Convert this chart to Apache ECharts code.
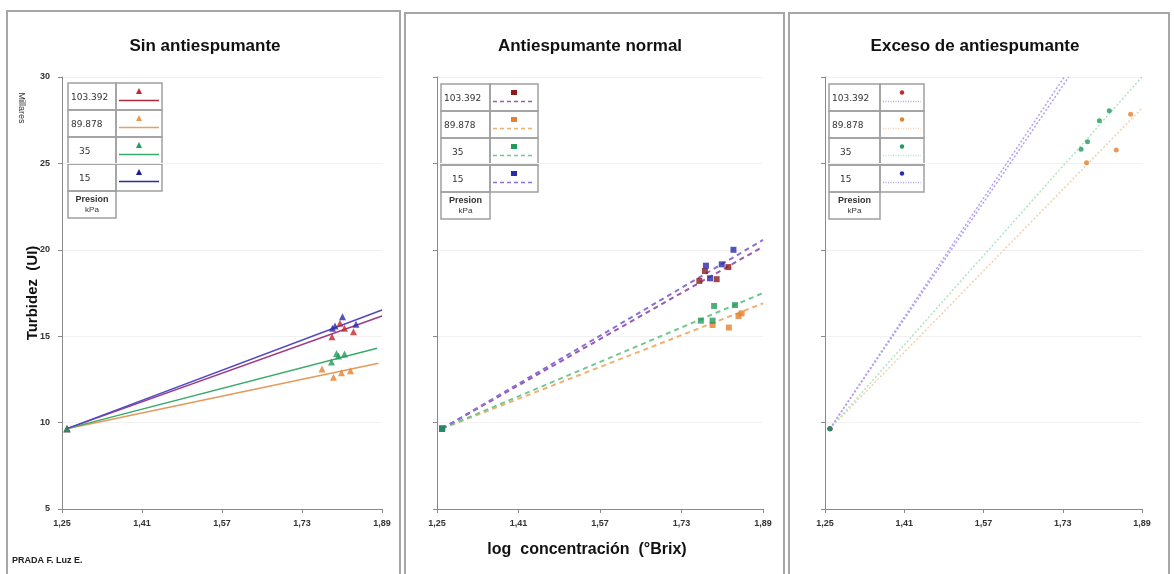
<!DOCTYPE html>
<html><head><meta charset="utf-8">
<script src="https://cdn.jsdelivr.net/npm/echarts@6/dist/echarts.min.js"></script>
<style>html,body{margin:0;padding:0;background:#fff}#c{width:1174px;height:574px}</style>
</head><body><div id="c"></div><script>
// ---------- DATA ----------
const xTickValues = [1.25, 1.41, 1.57, 1.73, 1.89];
const panelTitles = ['Sin antiespumante', 'Antiespumante normal', 'Exceso de antiespumante'];
const pressureLabels = ['103.392', '89.878', '35', '15'];
const origin = [1.26, 9.65];

// Panel 1: Sin antiespumante (triangles)
const sin_103 = [[1.790, 14.97], [1.806, 15.75], [1.815, 15.46], [1.833, 15.26]];
const sin_89  = [[1.770, 13.10], [1.793, 12.62], [1.809, 12.89], [1.827, 13.00]];
const sin_35  = [[1.789, 13.50], [1.799, 14.00], [1.803, 13.85], [1.815, 13.97]];
const sin_15  = [[1.791, 15.46], [1.796, 15.59], [1.811, 16.13], [1.838, 15.69]];
const sinTrendEnd = [[1.89, 16.17], [1.883, 13.43], [1.88, 14.30], [1.89, 16.52]];

// Panel 2: Antiespumante normal (squares)
const nor_103 = [[1.765, 18.20], [1.776, 18.77], [1.799, 18.30], [1.822, 19.00]];
const nor_89  = [[1.791, 15.65], [1.823, 15.50], [1.842, 16.17], [1.848, 16.32]];
const nor_35  = [[1.768, 15.90], [1.791, 15.90], [1.794, 16.75], [1.835, 16.80]];
const nor_15  = [[1.778, 19.08], [1.786, 18.35], [1.809, 19.16], [1.832, 20.00]];
const norTrendEnd = [[1.89, 20.18], [1.89, 16.90], [1.89, 17.50], [1.89, 20.57]];

// Panel 3: Exceso de antiespumante (circles)
const exc_103 = [];
const exc_89  = [[1.778, 25.04], [1.838, 25.78], [1.867, 27.84], [1.891, 28.63]];
const exc_35  = [[1.767, 25.82], [1.780, 26.26], [1.804, 27.47], [1.824, 28.05]];
const exc_15  = [];
const excTrendEnd = [[1.733, 30.0], [1.89, 28.20], [1.89, 30.0], [1.742, 30.0]];

// ---------- STYLE ----------
const markerColors = ['#c0282f', '#e6802e', '#239a5e', '#2a2aa8'];
const markerColors2 = ['#8b1a1a', '#e6802e', '#239a5e', '#2a2aa8'];
const lineColors1 = ['#9a3a8a', '#e39a5a', '#3aaa6a', '#5048c0'];
const lineColors2 = ['#9a5ab0', '#f0b070', '#70c890', '#8a70d0'];
const lineColors3 = ['#b8a0ec', '#f3d0b0', '#b0e4c4', '#b0a0ee'];

const grids = [
  {left: 62, top: 77, width: 320, height: 432},
  {left: 437, top: 77, width: 326, height: 432},
  {left: 825, top: 77, width: 317, height: 432}
];
const fontF = '"Liberation Sans", "DejaVu Sans", sans-serif';

const xAxes = grids.map((g, i) => ({
  gridIndex: i, type: 'value', min: 1.25, max: 1.89,
  axisLine: {lineStyle: {color: '#8a8a8a', width: 1}},
  axisTick: {show: true, customValues: xTickValues, length: 4, lineStyle: {color: '#8a8a8a'}},
  axisLabel: {customValues: xTickValues, color: '#333', fontSize: 9, fontWeight: 'bold', fontFamily: fontF, margin: 10,
    formatter: v => v.toFixed(2).replace('.', ',')},
  splitLine: {show: false}
}));
const yAxes = grids.map((g, i) => ({
  gridIndex: i, type: 'value', min: 5, max: 30, interval: 5,
  axisLine: {show: true, lineStyle: {color: '#8a8a8a', width: 1}},
  axisTick: {show: true, length: 4, lineStyle: {color: '#8a8a8a'}},
  axisLabel: {show: i === 0, color: '#333', fontSize: 9, fontWeight: 'bold', fontFamily: fontF, margin: 12},
  splitLine: {show: true, lineStyle: {color: '#f1f1f1', width: 1}}
}));

const series = [];
function addPanel(pi, sets, ends, symbol, mColors, lColors, lType, lWidth, symSize) {
  ends.forEach((e, k) => {
    series.push({type: 'line', xAxisIndex: pi, yAxisIndex: pi, data: [origin, e], symbol: 'none', clip: false,
      lineStyle: {color: lColors[k], width: lWidth, type: lType}, silent: true, z: 2});
  });
  [0, 1, 3, 2].forEach(k => {
    series.push({type: 'scatter', xAxisIndex: pi, yAxisIndex: pi, data: [origin].concat(sets[k]), symbol: symbol,
      symbolSize: symSize, itemStyle: {color: mColors[k]}, z: 3});
  });
}
addPanel(0, [sin_103, sin_89, sin_35, sin_15], sinTrendEnd, 'triangle', markerColors, lineColors1, 'solid', 1.5, 7);
addPanel(1, [nor_103, nor_89, nor_35, nor_15], norTrendEnd, 'rect', markerColors2, lineColors2, [5, 4], 2, 6);
addPanel(2, [exc_103, exc_89, exc_35, exc_15], excTrendEnd, 'circle', markerColors, lineColors3, [2, 2], 1.5, 5);

// ---------- GRAPHIC (frames, titles, legend tables) ----------
const graphic = [];
const frameStyle = {stroke: '#a6a6a6', fill: 'none', lineWidth: 2};
graphic.push({type: 'rect', shape: {x: 7, y: 11, width: 393, height: 600}, style: frameStyle, silent: true});
graphic.push({type: 'rect', shape: {x: 405, y: 13, width: 379, height: 600}, style: frameStyle, silent: true});
graphic.push({type: 'rect', shape: {x: 789, y: 13, width: 380, height: 600}, style: frameStyle, silent: true});

const titleX = [205, 590, 975];
panelTitles.forEach((t, i) => graphic.push({type: 'text', x: titleX[i], y: 46, silent: true,
  style: {text: t, fill: '#111', font: 'bold 17px ' + fontF, textAlign: 'center', textVerticalAlign: 'middle'}}));

graphic.push({type: 'text', x: 33, y: 293, rotation: Math.PI / 2, silent: true,
  style: {text: 'Turbidez  (UI)', fill: '#111', font: 'bold 15px ' + fontF, textAlign: 'center', textVerticalAlign: 'middle'}});
graphic.push({type: 'text', x: 21, y: 108, rotation: -Math.PI / 2, silent: true,
  style: {text: 'Millares', fill: '#333', font: '9px ' + fontF, textAlign: 'center', textVerticalAlign: 'middle'}});
graphic.push({type: 'text', x: 587, y: 550, silent: true,
  style: {text: 'log  concentración  (°Brix)', fill: '#111', font: 'bold 16px ' + fontF, textAlign: 'center', textVerticalAlign: 'middle'}});
graphic.push({type: 'text', x: 12, y: 561, silent: true,
  style: {text: 'PRADA F. Luz E.', fill: '#222', font: 'bold 9px ' + fontF, textAlign: 'left', textVerticalAlign: 'middle'}});

function legendTable(x0, y0, colW, swW, rowH, symbol, mColors, lColors, lDash) {
  const cell = {stroke: '#a0a0a0', fill: 'none', lineWidth: 1.5};
  for (let r = 0; r < 4; r++) {
    const y = y0 + r * rowH;
    graphic.push({type: 'rect', shape: {x: x0, y: y, width: colW, height: rowH}, style: cell, silent: true});
    graphic.push({type: 'rect', shape: {x: x0 + colW, y: y, width: swW, height: rowH}, style: cell, silent: true});
    const lx = r < 2 ? x0 + 3 : x0 + 11;
    graphic.push({type: 'text', x: lx, y: y + rowH / 2 + 1, silent: true,
      style: {text: pressureLabels[r], fill: '#333', font: '9px "DejaVu Sans", sans-serif', textAlign: 'left', textVerticalAlign: 'middle'}});
    const cx = x0 + colW + swW / 2;
    const my = y + rowH / 2 - 5;
    const ly = y + rowH / 2 + 4;
    graphic.push({type: 'line', shape: {x1: x0 + colW + 3, y1: ly, x2: x0 + colW + swW - 3, y2: ly}, silent: true,
      style: {stroke: lColors[r], lineWidth: 1.5, lineDash: lDash}});
    if (symbol === 'triangle') {
      graphic.push({type: 'polygon', shape: {points: [[cx, my - 3.5], [cx - 3, my + 2.5], [cx + 3, my + 2.5]]}, silent: true, style: {fill: mColors[r]}});
    } else if (symbol === 'rect') {
      graphic.push({type: 'rect', shape: {x: cx - 3, y: my - 2.5, width: 6, height: 5}, silent: true, style: {fill: mColors[r]}});
    } else {
      graphic.push({type: 'circle', shape: {cx: cx, cy: my, r: 2.2}, silent: true, style: {fill: mColors[r]}});
    }
  }
  const yp = y0 + 4 * rowH;
  graphic.push({type: 'rect', shape: {x: x0, y: yp, width: colW, height: rowH}, style: cell, silent: true});
  graphic.push({type: 'text', x: x0 + colW / 2, y: yp + rowH / 2 - 5, silent: true,
    style: {text: 'Presion', fill: '#333', font: 'bold 9px ' + fontF, textAlign: 'center', textVerticalAlign: 'middle'}});
  graphic.push({type: 'text', x: x0 + colW / 2, y: yp + rowH / 2 + 5, silent: true,
    style: {text: 'kPa', fill: '#333', font: '8px ' + fontF, textAlign: 'center', textVerticalAlign: 'middle'}});
}
legendTable(68, 83, 48, 46, 27, 'triangle', ['#c0282f', '#e6a04e', '#239a5e', '#1a1aa0'], ['#b0283a', '#e6a060', '#3aaa6a', '#2a2aa8'], null);
legendTable(441, 84, 49, 48, 27, 'rect', markerColors2, lineColors2, [4, 3]);
legendTable(829, 84, 51, 44, 27, 'circle', markerColors, lineColors3, [1, 1.5]);

const chart = echarts.init(document.getElementById('c'), null, {renderer: 'canvas'});
chart.setOption({
  animation: false,
  backgroundColor: '#ffffff',
  grid: grids,
  xAxis: xAxes,
  yAxis: yAxes,
  series: series,
  graphic: graphic
});
</script></body></html>
